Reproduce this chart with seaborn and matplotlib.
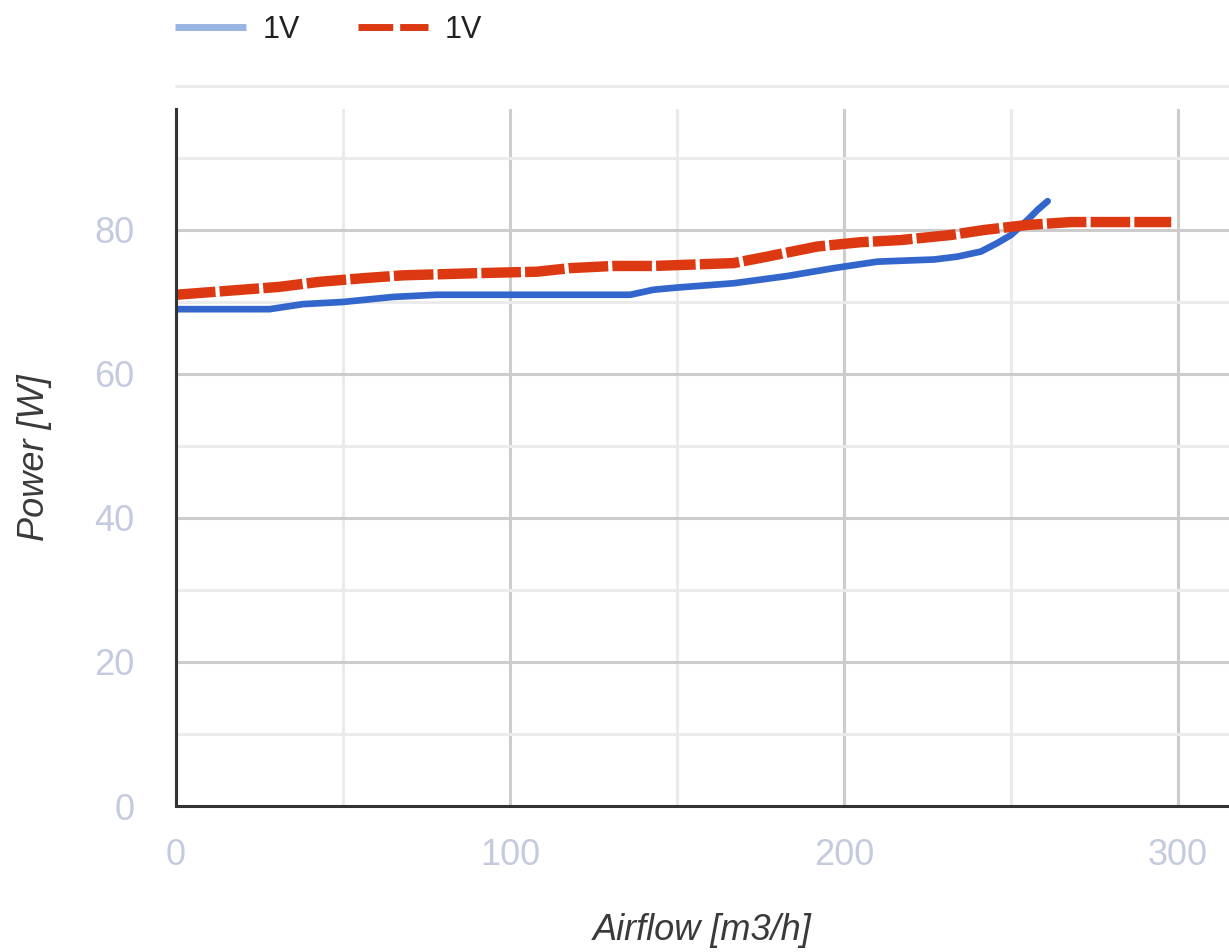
import numpy as np
import pandas as pd
import matplotlib
matplotlib.use("Agg")
import matplotlib.pyplot as plt
from matplotlib.lines import Line2D
from matplotlib.ticker import MultipleLocator
import seaborn as sns

# ---- data ----
blue_x = [0, 28, 38, 50, 65, 78, 100, 136, 143, 150, 167, 183, 197, 210, 227, 234, 241, 246, 250, 255, 258, 261]
blue_y = [69, 69, 69.7, 70, 70.7, 71, 71, 71, 71.7, 72, 72.6, 73.6, 74.7, 75.6, 75.9, 76.3, 77, 78.2, 79.3, 81.4, 82.8, 84]
red_x = [0, 31, 43, 56, 68, 90, 108, 118, 131, 143, 167, 177, 192, 205, 217, 232, 242, 255, 268, 298]
red_y = [71, 72.1, 72.8, 73.3, 73.7, 74, 74.2, 74.7, 75, 75, 75.4, 76.3, 77.7, 78.3, 78.6, 79.3, 80, 80.7, 81.1, 81.1]
legend_labels = ["1V", "1V"]
x_ticks = [0, 100, 200, 300]
y_ticks = [0, 20, 40, 60, 80]
x_label = "Airflow [m3/h]"
y_label = "Power [W]"

df = pd.concat([
    pd.DataFrame({"x": blue_x, "y": blue_y, "series": "a"}),
    pd.DataFrame({"x": red_x, "y": red_y, "series": "b"}),
])

sns.set_style("white")
plt.rcParams["font.family"] = ["Liberation Sans", "DejaVu Sans"]

BLUE = "#3366cc"
RED = "#dc3912"
MAJOR = "#cccccc"
MINOR = "#ebebeb"
TICKC = "#c5cbdf"
LABC = "#3a3a3a"

fig = plt.figure(figsize=(12.29, 9.52), dpi=100)
ax = fig.add_axes([176 / 1229, 1 - 806 / 952, 1 - 176 / 1229, (806 - 109) / 952])

sns.lineplot(data=df, x="x", y="y", hue="series", style="series",
             palette={"a": BLUE, "b": RED},
             dashes={"a": "", "b": (3.8, 0.4)},
             sort=False, estimator=None, legend=False, ax=ax, zorder=3)
lines = ax.get_lines()
lines[0].set_linewidth(4.8)
lines[1].set_linewidth(7.5)
lines[1].set_dash_capstyle("butt")

ax.set_xlim(0, 315.3)
ax.set_ylim(0, 96.8)

ax.xaxis.set_major_locator(MultipleLocator(100))
ax.xaxis.set_minor_locator(MultipleLocator(50))
ax.yaxis.set_major_locator(MultipleLocator(20))
ax.yaxis.set_minor_locator(MultipleLocator(10))
ax.set_xticks(x_ticks)
ax.set_yticks(y_ticks)
ax.set_xticklabels([str(t) for t in x_ticks])
ax.set_yticklabels([str(t) for t in y_ticks])

ax.set_axisbelow(True)
ax.grid(True, which="major", color=MAJOR, linewidth=2.2)
ax.grid(True, which="minor", color=MINOR, linewidth=2.2)
# light line above plot area (at 100)
ax.axhline(100, color=MINOR, linewidth=2.2, clip_on=False, zorder=1)

ax.tick_params(axis="both", which="both", length=0, labelsize=26, labelcolor=TICKC)
ax.tick_params(axis="y", pad=30)
ax.tick_params(axis="x", pad=23)

for s in ["top", "right"]:
    ax.spines[s].set_visible(False)
for s in ["left", "bottom"]:
    ax.spines[s].set_color("#333333")
    ax.spines[s].set_linewidth(2.2)
    ax.spines[s].set_zorder(4)

ax.set_xlabel(x_label, fontsize=26, style="italic", color=LABC, labelpad=29)
ax.set_ylabel(y_label, fontsize=26, style="italic", color=LABC, labelpad=30)

handles = [
    Line2D([], [], color="#9ab4e4", linewidth=5, solid_capstyle="butt"),
    Line2D([], [], color=RED, linewidth=5, linestyle=(0, (5.0, 1.0)), dash_capstyle="butt"),
]
fig.legend(handles, legend_labels, loc="center left", bbox_to_anchor=(160 / 1229, 1 - 30 / 952),
           ncol=2, frameon=False, fontsize=22, handlelength=2.3, handletextpad=0.55,
           columnspacing=1.9, borderpad=0, labelcolor="#222222")

fig.savefig("out.png", dpi=100)
